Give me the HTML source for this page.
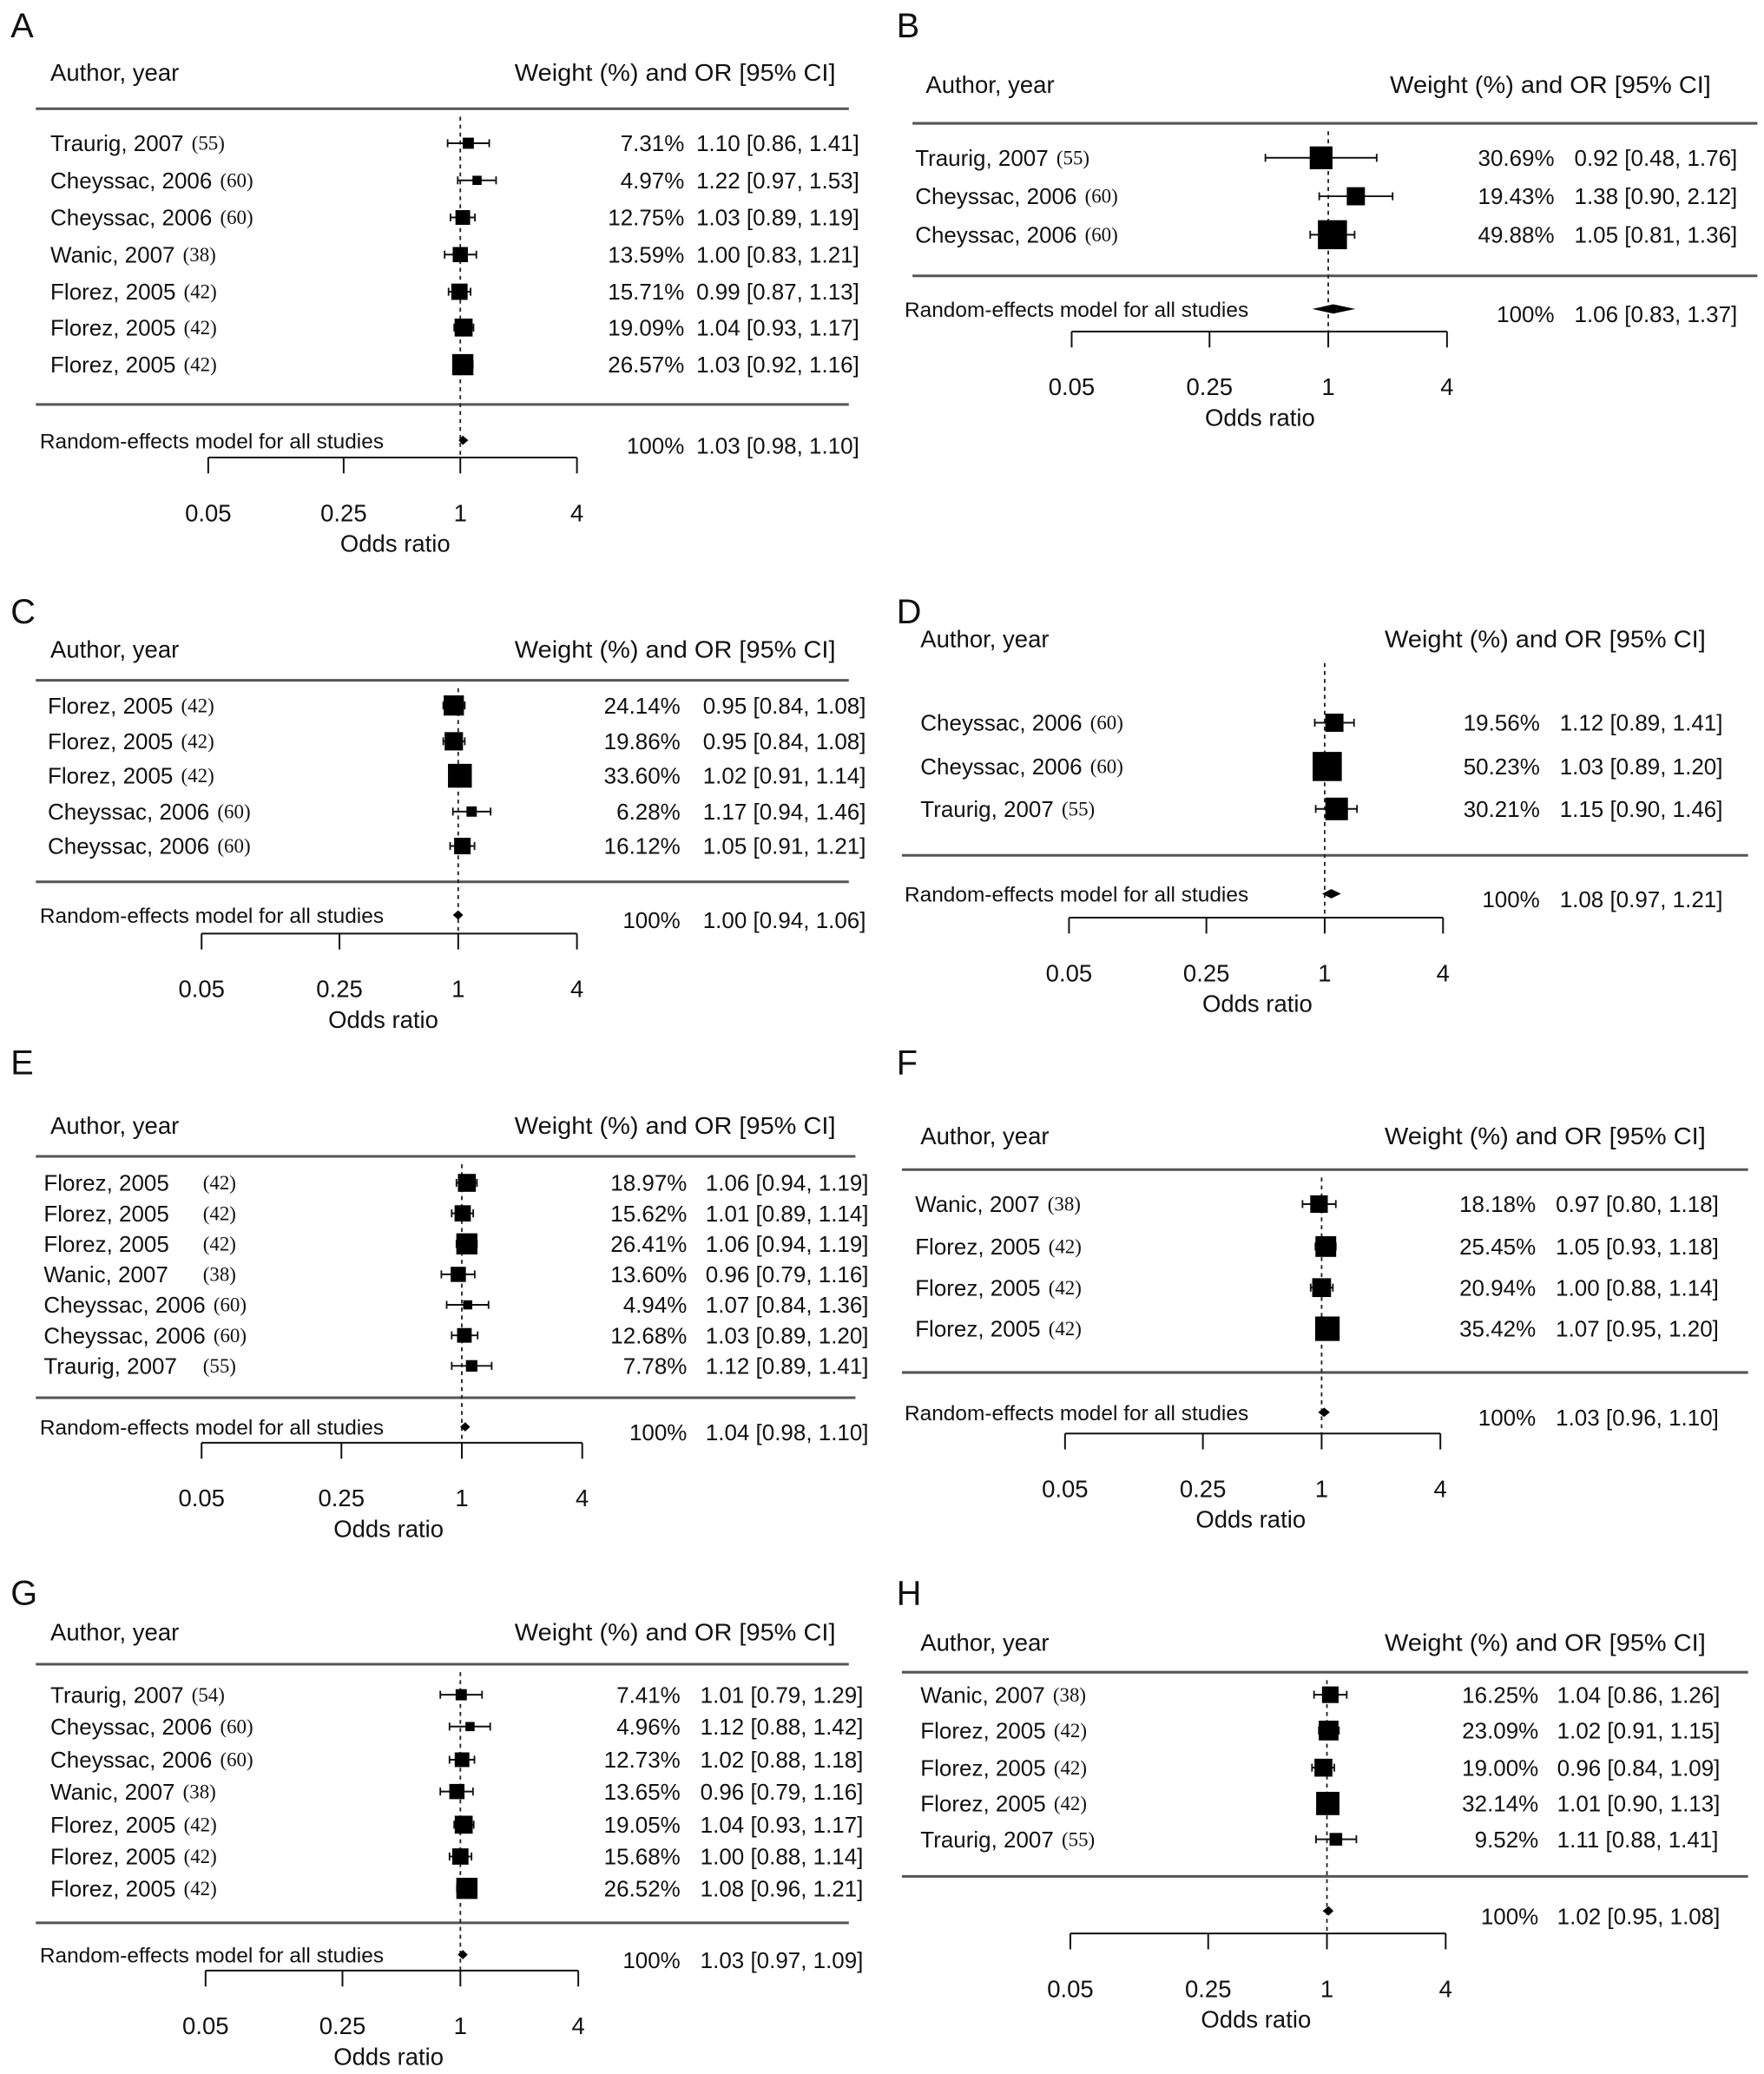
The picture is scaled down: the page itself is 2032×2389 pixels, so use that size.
<!DOCTYPE html>
<html><head><meta charset="utf-8"><style>
html,body{margin:0;padding:0;background:#fff;}
svg{display:block;}
text{font-family:"Liberation Sans Narrow","Liberation Sans",sans-serif;fill:#111;}
.ref{font-family:"Liberation Serif",serif;font-size:15px;}
</style></head><body>
<svg id="fig" width="2032" height="2389" viewBox="0 0 1330 1564" preserveAspectRatio="none" xmlns="http://www.w3.org/2000/svg"></svg>
<script>
// ---- data per panel ----
const labelsA=["Traurig, 2007","Cheyssac, 2006","Cheyssac, 2006","Wanic, 2007","Florez, 2005","Florez, 2005","Florez, 2005"];
const refsA=["(55)","(60)","(60)","(38)","(42)","(42)","(42)"];
const weightsA=[7.31,4.97,12.75,13.59,15.71,19.09,26.57];
const orA=[1.10,1.22,1.03,1.00,0.99,1.04,1.03];
const loA=[0.86,0.97,0.89,0.83,0.87,0.93,0.92];
const hiA=[1.41,1.53,1.19,1.21,1.13,1.17,1.16];
const sumA=[1.03,0.98,1.10];

const labelsB=["Traurig, 2007","Cheyssac, 2006","Cheyssac, 2006"];
const refsB=["(55)","(60)","(60)"];
const weightsB=[30.69,19.43,49.88];
const orB=[0.92,1.38,1.05];
const loB=[0.48,0.90,0.81];
const hiB=[1.76,2.12,1.36];
const sumB=[1.06,0.83,1.37];

const labelsC=["Florez, 2005","Florez, 2005","Florez, 2005","Cheyssac, 2006","Cheyssac, 2006"];
const refsC=["(42)","(42)","(42)","(60)","(60)"];
const weightsC=[24.14,19.86,33.60,6.28,16.12];
const orC=[0.95,0.95,1.02,1.17,1.05];
const loC=[0.84,0.84,0.91,0.94,0.91];
const hiC=[1.08,1.08,1.14,1.46,1.21];
const sumC=[1.00,0.94,1.06];

const labelsD=["Cheyssac, 2006","Cheyssac, 2006","Traurig, 2007"];
const refsD=["(60)","(60)","(55)"];
const weightsD=[19.56,50.23,30.21];
const orD=[1.12,1.03,1.15];
const loD=[0.89,0.89,0.90];
const hiD=[1.41,1.20,1.46];
const sumD=[1.08,0.97,1.21];

const labelsE=["Florez, 2005","Florez, 2005","Florez, 2005","Wanic, 2007","Cheyssac, 2006","Cheyssac, 2006","Traurig, 2007"];
const refsE=["(42)","(42)","(42)","(38)","(60)","(60)","(55)"];
const weightsE=[18.97,15.62,26.41,13.60,4.94,12.68,7.78];
const orE=[1.06,1.01,1.06,0.96,1.07,1.03,1.12];
const loE=[0.94,0.89,0.94,0.79,0.84,0.89,0.89];
const hiE=[1.19,1.14,1.19,1.16,1.36,1.20,1.41];
const sumE=[1.04,0.98,1.10];

const labelsF=["Wanic, 2007","Florez, 2005","Florez, 2005","Florez, 2005"];
const refsF=["(38)","(42)","(42)","(42)"];
const weightsF=[18.18,25.45,20.94,35.42];
const orF=[0.97,1.05,1.00,1.07];
const loF=[0.80,0.93,0.88,0.95];
const hiF=[1.18,1.18,1.14,1.20];
const sumF=[1.03,0.96,1.10];

const labelsG=["Traurig, 2007","Cheyssac, 2006","Cheyssac, 2006","Wanic, 2007","Florez, 2005","Florez, 2005","Florez, 2005"];
const refsG=["(54)","(60)","(60)","(38)","(42)","(42)","(42)"];
const weightsG=[7.41,4.96,12.73,13.65,19.05,15.68,26.52];
const orG=[1.01,1.12,1.02,0.96,1.04,1.00,1.08];
const loG=[0.79,0.88,0.88,0.79,0.93,0.88,0.96];
const hiG=[1.29,1.42,1.18,1.16,1.17,1.14,1.21];
const sumG=[1.03,0.97,1.09];

const labelsH=["Wanic, 2007","Florez, 2005","Florez, 2005","Florez, 2005","Traurig, 2007"];
const refsH=["(38)","(42)","(42)","(42)","(55)"];
const weightsH=[16.25,23.09,19.00,32.14,9.52];
const orH=[1.04,1.02,0.96,1.01,1.11];
const loH=[0.86,0.91,0.84,0.90,0.88];
const hiH=[1.26,1.15,1.09,1.13,1.41];
const sumH=[1.02,0.95,1.08];

const tickValues=[0.05,0.25,1,4];
const tickLabels=["0.05","0.25","1","4"];

const NS="http://www.w3.org/2000/svg";
const svg=document.getElementById('fig');
function mk(tag,attrs,parent,txt){const e=document.createElementNS(NS,tag);for(const k in attrs)e.setAttribute(k,attrs[k]);if(txt!==undefined)e.textContent=txt;(parent||svg).appendChild(e);return e;}
function f2(v){return v.toFixed(2);}

const layouts=[
 {id:"A",L:labelsA,R:refsA,W:weightsA,O:orA,Lo:loA,Hi:hiA,S:sumA,letter:[8,28],hx:38,hy:55,wx:388,top:82,bot:305,lx0:27,lx1:640,rows:[108,136,164,192,220,247,275],sy:332,ax:357,t0:157,t1:435,wr:516,orx:525,labx:38,sumx:30,sumLabel:true,xlab:298},
 {id:"B",L:labelsB,R:refsB,W:weightsB,O:orB,Lo:loB,Hi:hiB,S:sumB,letter:[676,28],hx:698,hy:64,wx:1048,top:93,bot:208,lx0:688,lx1:1325,rows:[119,148,177],sy:233,ax:262,t0:808,t1:1091,wr:1172,orx:1187,labx:690,sumx:682,sumLabel:true,xlab:950},
 {id:"C",L:labelsC,R:refsC,W:weightsC,O:orC,Lo:loC,Hi:hiC,S:sumC,letter:[8,470],hx:38,hy:490,wx:388,top:513,bot:665,lx0:27,lx1:640,rows:[532,559,585,612,638],sy:690,ax:716,t0:152,t1:435,wr:513,orx:530,labx:36,sumx:30,sumLabel:true,xlab:289},
 {id:"D",L:labelsD,R:refsD,W:weightsD,O:orD,Lo:loD,Hi:hiD,S:sumD,letter:[676,470],hx:694,hy:482,wx:1044,top:null,bot:645,lx0:680,lx1:1318,rows:[545,578,610],sy:674,ax:704,t0:806,t1:1088,wr:1161,orx:1176,labx:694,sumx:682,sumLabel:true,xlab:948},
 {id:"E",L:labelsE,R:refsE,W:weightsE,O:orE,Lo:loE,Hi:hiE,S:sumE,letter:[8,810],hx:38,hy:849,wx:388,top:872,bot:1054,lx0:27,lx1:645,rows:[892,915,938,961,984,1007,1030],sy:1076,ax:1100,t0:152,t1:439,wr:518,orx:532,labx:33,sumx:30,sumLabel:true,xlab:293,refx:153},
 {id:"F",L:labelsF,R:refsF,W:weightsF,O:orF,Lo:loF,Hi:hiF,S:sumF,letter:[676,810],hx:694,hy:857,wx:1044,top:882,bot:1035,lx0:680,lx1:1318,rows:[908,940,971,1002],sy:1065,ax:1093,t0:803,t1:1086,wr:1158,orx:1173,labx:690,sumx:682,sumLabel:true,xlab:943},
 {id:"G",L:labelsG,R:refsG,W:weightsG,O:orG,Lo:loG,Hi:hiG,S:sumG,letter:[8,1210],hx:38,hy:1231,wx:388,top:1255,bot:1450,lx0:27,lx1:640,rows:[1278,1302,1327,1351,1376,1400,1424],sy:1474,ax:1498,t0:155,t1:436,wr:513,orx:528,labx:38,sumx:30,sumLabel:true,xlab:293},
 {id:"H",L:labelsH,R:refsH,W:weightsH,O:orH,Lo:loH,Hi:hiH,S:sumH,letter:[676,1210],hx:694,hy:1239,wx:1044,top:1261,bot:1415,lx0:680,lx1:1318,rows:[1278,1305,1333,1360,1387],sy:1441,ax:1470,t0:807,t1:1090,wr:1160,orx:1174,labx:694,sumx:682,sumLabel:false,xlab:947}
];

layouts.forEach(p=>{
  const g=mk('g',{});
  
  
  const lmin=Math.log(0.05),lmax=Math.log(4);
  const X=v=>p.t0+(Math.log(v)-lmin)/(lmax-lmin)*(p.t1-p.t0);
  let t=mk('text',{x:p.letter[0],y:p.letter[1],'font-size':26,'font-family':'Liberation Sans, sans-serif'},g,p.id);
  
  t=mk('text',{x:p.hx,y:p.hy+6,'font-size':18},g,'Author, year');
  
  t=mk('text',{x:p.wx,y:p.hy+6,'font-size':18,textLength:242,lengthAdjust:'spacingAndGlyphs'},g,'Weight (%) and OR [95% CI]');
  
  if(p.top!==null){const l=mk('line',{x1:p.lx0,x2:p.lx1,y1:p.top,y2:p.top,stroke:'#555','stroke-width':2},g);
    }
  const l2=mk('line',{x1:p.lx0,x2:p.lx1,y1:p.bot,y2:p.bot,stroke:'#555','stroke-width':2},g);
  
  const ref=mk('line',{x1:X(1),x2:X(1),y1:(p.top||p.hy+12)+6,y2:p.ax-12,stroke:'#222','stroke-width':1.2,'stroke-dasharray':'3,3'},g);
  
  p.L.forEach((lab,i)=>{
    const y=p.rows[i];
    const tx=mk('text',{x:p.labx,y:y+6,'font-size':17},g,lab);
    
    const endX=p.labx+tx.getComputedTextLength()+6;
    const rx=p.refx?Math.max(p.refx,endX):endX;
    const rt=mk('text',{x:rx,y:y+5,class:'ref'},g,p.R[i]);
    
    const ci=mk('line',{x1:X(p.Lo[i]),x2:X(p.Hi[i]),y1:y,y2:y,stroke:'#111','stroke-width':1.3},g);
    
    [p.Lo[i],p.Hi[i]].forEach(v=>{const c=mk('line',{x1:X(v),x2:X(v),y1:y-3,y2:y+3,stroke:'#111','stroke-width':1.2},g);
      });
    const sz=3.1*Math.sqrt(p.W[i]);
    const b=mk('rect',{x:X(p.O[i])-sz/2,y:y-sz/2,width:sz,height:sz,fill:'#000'},g);
    
    const w=mk('text',{x:p.wr,y:y+6,'font-size':17,'text-anchor':'end'},g,f2(p.W[i])+'%');
    
    const o=mk('text',{x:p.orx,y:y+6,'font-size':17},g,f2(p.O[i])+' ['+f2(p.Lo[i])+', '+f2(p.Hi[i])+']');
    
  });
  const sy=p.sy;
  if(p.sumLabel){const s=mk('text',{x:p.sumx,y:sy+6,'font-size':16},g,'Random-effects model for all studies');
    }
  const d=mk('polygon',{points:`${X(p.S[1])},${sy} ${X(p.S[0])},${sy-3.5} ${X(p.S[2])},${sy} ${X(p.S[0])},${sy+3.5}`,fill:'#000'},g);
  
  let sw=mk('text',{x:p.wr,y:sy+10,'font-size':17,'text-anchor':'end'},g,'100%');
  
  sw=mk('text',{x:p.orx,y:sy+10,'font-size':17},g,f2(p.S[0])+' ['+f2(p.S[1])+', '+f2(p.S[2])+']');
  
  const ax=mk('line',{x1:X(0.05),x2:X(4),y1:p.ax-12,y2:p.ax-12,stroke:'#111','stroke-width':1.3},g);
  
  tickValues.forEach((v,i)=>{
    const tk=mk('line',{x1:X(v),x2:X(v),y1:p.ax-12,y2:p.ax,stroke:'#111','stroke-width':1.3},g);
    
    const tl=mk('text',{x:X(v),y:p.ax+36,'font-size':18,'text-anchor':'middle'},g,tickLabels[i]);
    
  });
  const xl=mk('text',{x:p.xlab,y:p.ax+59,'font-size':18,'text-anchor':'middle'},g,'Odds ratio');
  
});
</script>
</body></html>
